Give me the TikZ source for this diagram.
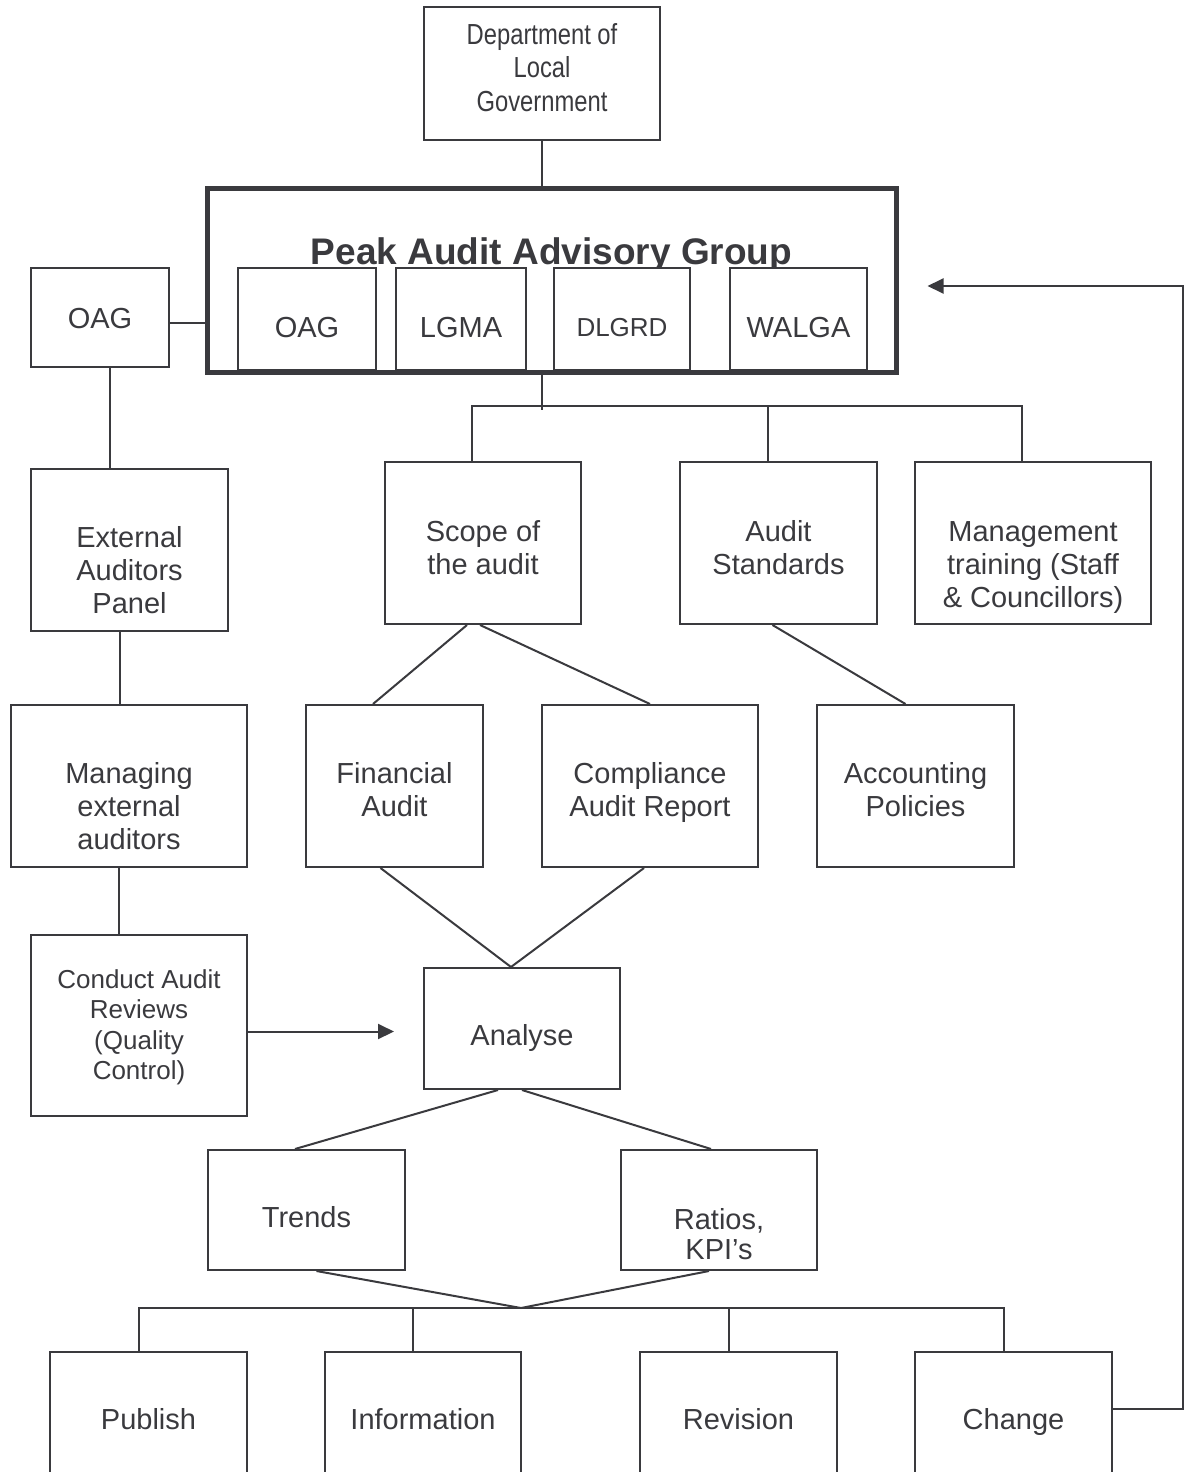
\documentclass[tikz,border=0pt]{standalone}
\usepackage{fontspec}
\setmainfont{Liberation Sans}
\newfontfamily\narrowfont[FakeStretch=0.82]{Liberation Sans}
\usetikzlibrary{arrows.meta}
\definecolor{ink}{RGB}{58,58,62}

\begin{document}
\begin{tikzpicture}[
    x=0.5pt, y=-0.5pt,
    box/.style={draw=ink, line width=1pt, text=ink, align=center, inner sep=0pt, text depth=3pt, font=\fontsize{14.5}{16.5}\selectfont},
    member/.style={box, fill=white, minimum height=51pt, text height=21.6pt},
    small/.style={font=\fontsize{13}{15.15}\selectfont},
    narrow/.style={font=\narrowfont\fontsize{14.5}{16.75}\selectfont},
    dims/.style 2 args={minimum width=#1pt, minimum height=#2pt},
    group/.style={draw=ink, line width=2.5pt, text=ink, inner sep=0pt, font=\bfseries\fontsize{18.5}{22}\selectfont},
    line/.style={draw=ink, line width=1pt},
    arrow/.style={line, -{Triangle[length=8pt,width=7.5pt]}}
]
\useasboundingbox (0,0) rectangle (1187,1472);

\node[box, narrow, dims={118}{66.5}, text height=40.6pt] (dlg) at (542,73.5) {Department of\\Local\\Government};

\node[group, dims={344.5}{92}, text height=14pt, text depth=30pt] (peak) at (551.5,280) {Peak Audit Advisory Group};
\node[member, minimum width=69pt] (m-oag) at (307,319) {OAG};
\node[member, minimum width=65pt] (m-lgma) at (461,319) {LGMA};
\node[member, small, minimum width=68pt, text height=20.5pt] (m-dlgrd) at (622,319) {DLGRD};
\node[member, minimum width=68.5pt] (m-walga) at (798.5,319) {WALGA};

\node[box, dims={69}{49.5}, text height=14.1pt] (oag) at (100,317.5) {OAG};
\node[box, dims={98.5}{81}, text height=66.6pt] (ext) at (129.5,550) {External\\Auditors\\Panel};
\node[box, dims={118}{81}, text height=66.6pt] (manage) at (129,786) {Managing\\external\\auditors};
\node[box, small, dims={108}{90.5}, text height=56.9pt] (conduct) at (139,1025.5) {Conduct Audit\\Reviews\\(Quality\\Control)};

\node[box, dims={98}{81}, text height=34.6pt] (scope) at (483,543) {Scope of\\the audit};
\node[box, dims={98.5}{81}, text height=34.6pt] (stand) at (778.5,543) {Audit\\Standards};
\node[box, dims={118}{81}, text height=67.6pt] (mgmt) at (1033,543) {Management\\training (Staff\\\& Councillors)};

\node[box, dims={88.5}{81}, text height=33.6pt] (fin) at (394.5,786) {Financial\\Audit};
\node[box, dims={108}{81}, text height=33.6pt] (comp) at (650,786) {Compliance\\Audit Report};
\node[box, dims={98.5}{81}, text height=33.6pt] (acc) at (915.5,786) {Accounting\\Policies};

\node[box, dims={98}{60.5}, text height=20.1pt] (analyse) at (522,1028.5) {Analyse};
\node[box, dims={98.5}{60}, text height=20.6pt] (trends) at (306.5,1210) {Trends};
\node[box, dims={98}{60}, text height=52.6pt, font=\fontsize{14.5}{15}\selectfont] (ratios) at (719,1210) {Ratios,\\KPI’s};

\node[box, dims={98.5}{69}, text height=11.6pt] (publish) at (148.5,1421) {Publish};
\node[box, dims={98}{69}, text height=11.6pt] (info) at (423,1421) {Information};
\node[box, dims={98.5}{69}, text height=11.6pt] (revision) at (738.5,1421) {Revision};
\node[box, dims={98.5}{69}, text height=11.6pt] (change) at (1013.5,1421) {Change};

\coordinate (top-bus) at (542,406);
\coordinate (low-bus) at (521,1308);
\coordinate (back) at (1183,286);

% Connections

\draw[line] (dlg.south) -- (dlg |- peak.north);
\draw[line] ([yshift=-2.5pt]oag.east) -- ([yshift=-2.5pt]oag.east -| peak.west);
\draw[line] ([xshift=5pt]oag.south) -- ([xshift=5pt]oag.south |- ext.north);
\draw[line] ([xshift=-5pt]ext.south) -- ([xshift=-5pt]ext.south |- manage.north);
\draw[line] ([xshift=-5pt]manage.south) -- ([xshift=-5pt]manage.south |- conduct.north);
\draw[arrow, shorten >=14.5pt] ([yshift=-3pt]conduct.east) -- ([yshift=-3pt]conduct.east -| analyse.west);

\draw[line] (dlg |- peak.south) -- ([yshift=-2pt]top-bus);
\foreach \n in {scope, stand, mgmt}
    \draw[line] ([xshift=-5.5pt]\n.north) |- (top-bus);

\draw[line] ([xshift=-8pt]scope.south) -- ([xshift=-10.75pt]fin.north);
\draw[line] ([xshift=-1.5pt]scope.south) -- (comp.north);
\draw[line] ([xshift=-3pt]stand.south) -- ([xshift=-5pt]acc.north);

\draw[line] ([xshift=-7pt]fin.south) -- ([xshift=-5.5pt]analyse.north) -- ([xshift=-3pt]comp.south);
\draw[line] ([xshift=-12pt]analyse.south) -- ([xshift=-5.75pt]trends.north);
\draw[line] (analyse.south) -- ([xshift=-4pt]ratios.north);

\draw[line] ([xshift=5pt]trends.south) -- (low-bus) -- ([xshift=-5pt]ratios.south);
\foreach \n in {publish, info, revision, change}
    \draw[line] ([xshift=-5pt]\n.north) |- (low-bus);

\draw[arrow, shorten >=14.5pt] ([yshift=6pt]change.east) -| (back) -- (back -| peak.east);

\end{tikzpicture}
\end{document}
